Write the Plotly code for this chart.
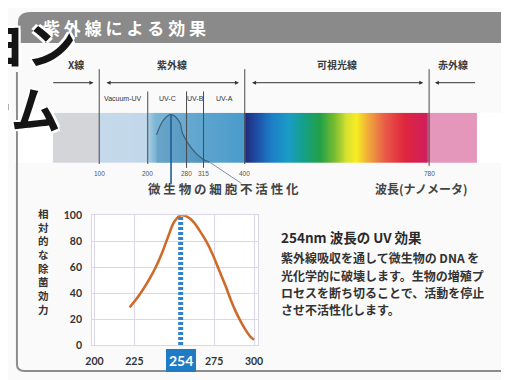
import numpy as np
import plotly.graph_objects as go

W, H = 509, 380          # browser window
OFF = 8                  # default page margin of the html body
FW, FH = W - OFF, H - OFF

# ---------------- data ----------------
# relative germicidal effectiveness vs wavelength (nm)
wavelength = [222, 226, 230, 234, 238, 242, 246, 250, 254, 258, 262, 266, 270,
              274, 278, 282, 286, 290, 294, 298, 300]
effect = [29, 35, 42, 50, 59, 70, 83, 95, 100, 99, 95, 88, 80,
          70, 58, 46, 33, 22, 13, 6, 4]
peak_wavelength = 254
x_ticks = [200, 225, 275, 300]
y_ticks = [0, 20, 40, 60, 80, 100]

# spectrum diagram
region_bounds = [5, 100, 400, 780, 878]
region_names = ["X線", "紫外線", "可視光線", "赤外線"]
uv_bounds = [100, 200, 280, 315, 400]
uv_names = ["Vacuum-UV", "UV-C", "UV-B", "UV-A"]
scale_ticks = [100, 200, 280, 315, 400, 780]
scale_labels = ["100", "200", "280", "315", "400", "780"]
spec_nm = [5, 99, 101, 195, 215, 300, 398, 402, 425, 455, 490, 520, 555,
           585, 610, 630, 655, 690, 730, 775, 782, 878]
spec_col = ['#d3d5d9', '#d3d5d9', '#c4d9ea', '#c2d8ea', '#7db6d6', '#60a6cf',
            '#4b9bcb', '#1e2c7c', '#1f4ea6', '#1c7ec6', '#1a9cc6', '#14a08a',
            '#22a048', '#78bc30', '#d8e030', '#f6ee22', '#f0a83a', '#e85a48',
            '#e0243e', '#cf1f5c', '#e596bb', '#e596bb']
absorb_nm = [218, 232, 248, 266, 272, 292, 313, 327]
absorb_val = [0.56, 0.85, 0.96, 0.81, 0.58, 0.27, 0.08, 0.02]

title_text = "紫 外 線 に よ る 効 果"
heading = "254nm 波長の UV 効果"
para_lines = ["紫外線吸収を通して微生物の DNA を",
              "光化学的に破壊します。生物の増殖プ",
              "ロセスを断ち切ることで、活動を停止",
              "させ不活性化します。"]
y_title = "相対的な除菌効力"


# ---------------- helpers (window pixel -> paper fraction) ----------------
def pxx(p):
    return (p - OFF) / FW


def pxy(p):
    return 1 - (p - OFF) / FH


JP = "Noto Sans CJK JP"
SPEC_Y0, SPEC_Y1 = pxy(162), pxy(110)
NM_A, NM_B = 44.6, 0.497   # window px = NM_A + NM_B * nm

fig = go.Figure()

# ---------- spectrum (x2/y2) ----------
grid = np.arange(spec_nm[0], spec_nm[-1] + 1, 1.0)
span = spec_nm[-1] - spec_nm[0]
cscale = [[(n - spec_nm[0]) / span, c] for n, c in zip(spec_nm, spec_col)]
fig.add_trace(go.Heatmap(x=grid, z=[grid], y0=0.5, dy=1, colorscale=cscale,
                         zmin=spec_nm[0], zmax=spec_nm[-1], showscale=False,
                         hoverinfo="skip", xaxis="x2", yaxis="y2"))
fig.add_trace(go.Scatter(x=absorb_nm, y=absorb_val, mode="lines",
                         line=dict(color="#3d5f78", width=1.2, shape="spline"),
                         fill="tozeroy", fillcolor="rgba(30,90,140,0.18)",
                         hoverinfo="skip", xaxis="x2", yaxis="y2"))

# ---------- line chart ----------
fig.add_trace(go.Scatter(x=[peak_wavelength, peak_wavelength], y=[0, 100],
                         mode="lines", line=dict(color="#2f83cc", width=5, dash="3px,2px"),
                         hoverinfo="skip"))
fig.add_trace(go.Scatter(x=wavelength, y=effect, mode="lines",
                         line=dict(color="#cf6b2a", width=2.6, shape="spline"),
                         hoverinfo="skip"))

shapes = []
# title banner
banner = (f"M {pxx(11)},{pxy(38)} L {pxx(11)},{pxy(17)} Q {pxx(11)},{pxy(6)} {pxx(24)},{pxy(6)} "
          f"L {pxx(509)},{pxy(6)} L {pxx(509)},{pxy(38)} Z")
shapes.append(dict(type="path", path=banner, xref="paper", yref="paper",
                   fillcolor="#8a8a8a", line=dict(width=0), layer="below"))
# page border on left / bottom
border = (f"M {pxx(10)},{pxy(68)} L {pxx(10)},{pxy(370)} Q {pxx(10)},{pxy(377)} {pxx(18)},{pxy(377)} "
          f"L {pxx(509)},{pxy(377)}")
shapes.append(dict(type="path", path=border, xref="paper", yref="paper",
                   line=dict(color="#8c8c8c", width=2), layer="below"))
# spectrum divider lines
div_top = {100: 65, 200: 88, 280: 88, 315: 88, 400: 65, 780: 65}
div_bot = {100: 163, 200: 163, 280: 167, 315: 167, 400: 163, 780: 165}
for b in scale_ticks:
    shapes.append(dict(type="line", xref="x2", yref="paper", x0=b, x1=b,
                       y0=pxy(div_top[b]), y1=pxy(div_bot[b]),
                       line=dict(color="#4a4a4a", width=1)))
# pointer lines to label
pk = absorb_nm[int(np.argmax(absorb_val))]
pk_y = SPEC_Y0 + max(absorb_val) * (SPEC_Y1 - SPEC_Y0)
shapes.append(dict(type="line", xref="x2", yref="paper", x0=pk, x1=pk,
                   y0=pk_y, y1=pxy(184), line=dict(color="#1f5f95", width=1.6)))
end_y = SPEC_Y0 + absorb_val[-1] * (SPEC_Y1 - SPEC_Y0)
shapes.append(dict(type="line", xref="x2", yref="paper", x0=absorb_nm[-1], x1=393,
                   y0=end_y, y1=pxy(183), line=dict(color="#8090ac", width=1)))

ann = []


def note(text, x, y, size, color="#333333", family=JP, xanchor="center", xref="paper", **kw):
    d = dict(text=text, x=x, y=y, xref=xref, yref="paper", xanchor=xanchor,
             yanchor="middle", showarrow=False,
             font=dict(family=family, size=size, color=color, **kw.pop("font_extra", {})))
    d.update(kw)
    ann.append(d)


# title
note(f"<b>{title_text}</b>", pxx(35), pxy(22), 17, "#ffffff", xanchor="left")
# region labels
for i, name in enumerate(region_names):
    c = (region_bounds[i] + region_bounds[i + 1]) / 2
    note(f"<b>{name}</b>", c, pxy(60), 10, "#3a3a3a", xref="x2")
# region arrows
gap = 12
arrows = [(region_bounds[0] - 3, region_bounds[1] - gap, "end"),
          (region_bounds[1] + gap, region_bounds[2] - gap, "end+start"),
          (region_bounds[2] + gap, region_bounds[3] - gap, "end+start"),
          (region_bounds[4], region_bounds[3] + gap, "end")]
for tail, head, side in arrows:
    ann.append(dict(text="", x=head, xref="x2", y=pxy(79), yref="paper",
                    ax=tail, axref="x2", ay=0, ayref="pixel", showarrow=True,
                    arrowhead=2, arrowsize=0.8, arrowwidth=1, arrowcolor="#333333",
                    arrowside=side, startarrowhead=2, startarrowsize=0.8))
# UV sub-labels
for i, name in enumerate(uv_names):
    c = (uv_bounds[i] + uv_bounds[i + 1]) / 2
    note(name, c, pxy(95), 7, "#333333", family="Liberation Sans", xref="x2")
# wavelength scale labels
for v, t in zip(scale_ticks, scale_labels):
    note(t, v, pxy(173), 6.5, "#555555", family="Liberation Sans", xref="x2")
note("<b>微 生 物 の 細 胞 不 活 性 化</b>", pxx(222), pxy(188), 12.5, "#444444")
note("<b>波長(ナノメータ)</b>", pxx(424), pxy(188), 12, "#444444")
# y title (vertical)
note("<br>".join(f"<b>{ch}</b>" for ch in y_title), pxx(37), pxy(264), 10.5, "#333333")
# 254 highlight label
note("<b>254</b>", peak_wavelength, pxy(366), 14, "#ffffff", family="Lato", xref="x",
     bgcolor="#1f7bc4", bordercolor="#1f7bc4", borderpad=2)
# right text block
note(f"<b>{heading}</b>", pxx(278), pxy(238), 13.5, "#2a2a2a", xanchor="left")
for i, line in enumerate(para_lines):
    note(f"<b>{line}</b>", pxx(278), pxy(260 + i * 17.7), 12, "#333333", xanchor="left")
# large overlapping characters from the neighbouring page
halo = "2px 2px 0 #fff, -2px -2px 0 #fff, 2px -2px 0 #fff, -2px 2px 0 #fff"
note("<b>ヨン</b>", pxx(73), pxy(37), 50, "#151515", xanchor="right",
     font_extra=dict(shadow=halo))
note("<b>テム</b>", pxx(57), pxy(104), 50, "#151515", xanchor="right",
     font_extra=dict(shadow=halo))

grid_col = "#dcd6ea"
fig.update_layout(
    width=FW, height=FH, margin=dict(l=0, r=0, t=0, b=0),
    paper_bgcolor="#fafafa", plot_bgcolor="#ffffff", showlegend=False,
    shapes=shapes, annotations=ann,
    xaxis=dict(domain=[pxx(87), pxx(257)], range=[198.5, 302.5], tickvals=x_ticks,
               showgrid=True, gridcolor=grid_col, gridwidth=1, zeroline=False,
               showline=True, mirror=True, linecolor=grid_col, ticks="",
               ticklabelstandoff=6, anchor="y",
               tickfont=dict(family="Lato", size=10.5, color="#333333", weight="bold")),
    yaxis=dict(domain=[pxy(350), pxy(216)], range=[0, 100], tickvals=y_ticks,
               showgrid=True, gridcolor=grid_col, gridwidth=1, zeroline=False,
               showline=True, mirror=True, linecolor=grid_col, ticks="",
               ticklabelstandoff=7, anchor="x",
               tickfont=dict(family="Lato", size=10.5, color="#333333", weight="bold")),
    xaxis2=dict(domain=[0, 1], range=[(OFF - NM_A) / NM_B, (W - NM_A) / NM_B],
                visible=False, anchor="y2"),
    yaxis2=dict(domain=[SPEC_Y0, SPEC_Y1], range=[0, 1], visible=False, anchor="x2"),
)

fig.write_html("out.html")
